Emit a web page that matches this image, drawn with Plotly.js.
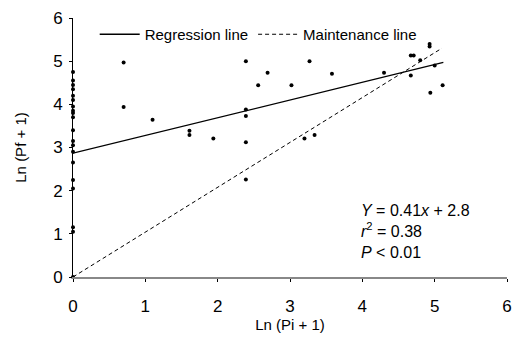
<!DOCTYPE html>
<html>
<head>
<meta charset="utf-8">
<script src="https://cdn.plot.ly/plotly-3.0.1.min.js"></script>
<style>html,body{margin:0;padding:0;background:#fff;}#chart{width:513px;height:337px;}</style>
</head>
<body>
<div id="chart"></div>
<script>
// Observed points: Ln(Pi + 1) vs Ln(Pf + 1)
const pointsX = [0,0,0,0,0,0,0,0,0,0,0,0,0,0,0,0,0,0,0,0,
  0.70,0.70,1.10,1.61,1.61,1.94,2.39,2.69,2.56,3.02,3.27,3.58,2.39,2.39,2.39,3.20,3.34,2.39,
  4.30,4.67,4.71,4.80,4.67,5.00,4.93,4.93,5.11,4.94];
const pointsY = [4.75,4.55,4.45,4.35,4.20,4.10,3.95,3.85,3.80,3.70,3.40,3.15,3.05,2.90,2.65,2.25,2.05,1.15,1.05,0,
  4.97,3.94,3.64,3.39,3.29,3.21,5.00,4.73,4.44,4.44,5.00,4.71,3.88,3.73,3.12,3.21,3.29,2.26,
  4.73,5.13,5.13,5.02,4.67,4.90,5.40,5.34,4.44,4.27];
// Regression line endpoints
const regX = [0, 5.12];
const regY = [2.87, 4.97];
// Maintenance line endpoints
const mainX = [0, 5.1];
const mainY = [0, 5.3];
const xTicks = [0,1,2,3,4,5,6];
const yTicks = [0,1,2,3,4,5,6];

const font = {family: 'Liberation Sans, Arial, sans-serif', color: '#000'};

const traces = [
  {x: regX, y: regY, mode: 'lines', name: 'Regression line',
   line: {color: '#000', width: 1.3}},
  {x: mainX, y: mainY, mode: 'lines', name: 'Maintenance line',
   line: {color: '#000', width: 1, dash: '4px,3px'}},
  {x: pointsX, y: pointsY, mode: 'markers', showlegend: false,
   marker: {color: '#000', size: 4, symbol: 'circle'}, cliponaxis: false}
];

const layout = {
  width: 513, height: 337,
  margin: {l: 73, r: 6, t: 18, b: 60},
  paper_bgcolor: '#fff', plot_bgcolor: '#fff',
  showlegend: true,
  legend: {orientation: 'h', x: 0.05, y: 1.0, xanchor: 'left', yanchor: 'top',
    font: Object.assign({size: 15}, font), bgcolor: 'rgba(0,0,0,0)',
    itemwidth: 40, tracegroupgap: 0},
  xaxis: {range: [0, 6], tickvals: xTicks, ticktext: xTicks.map(String),
    showgrid: false, zeroline: false, showline: true, linecolor: '#888', linewidth: 1.5,
    ticks: 'outside', ticklen: 3, tickcolor: '#000', ticklabelstandoff: 10,
    ticklabeloverflow: 'allow',
    tickfont: Object.assign({size: 17}, font),
    title: {text: 'Ln (Pi + 1)', font: Object.assign({size: 15}, font), standoff: 4}},
  yaxis: {range: [0, 6], tickvals: yTicks, ticktext: yTicks.map(String),
    showgrid: false, zeroline: false, showline: true, linecolor: '#000', linewidth: 1,
    ticks: 'outside', ticklen: 3, tickcolor: '#000', ticklabelstandoff: 3,
    tickfont: Object.assign({size: 17}, font),
    title: {text: 'Ln (Pf + 1)', font: Object.assign({size: 15}, font), standoff: 22}},
  annotations: [
    {xref: 'paper', yref: 'paper', x: 0.66, y: 0.175, xanchor: 'left', yanchor: 'middle', showarrow: false,
     align: 'left', font: Object.assign({size: 16}, font),
     text: '<i>Y</i> = 0.41<i>x</i> + 2.8<br><i>r</i><sup>2</sup> = 0.38<br><i>P</i> &lt; 0.01'}
  ]
};

Plotly.newPlot('chart', traces, layout, {displayModeBar: false, staticPlot: true});
</script>
</body>
</html>
